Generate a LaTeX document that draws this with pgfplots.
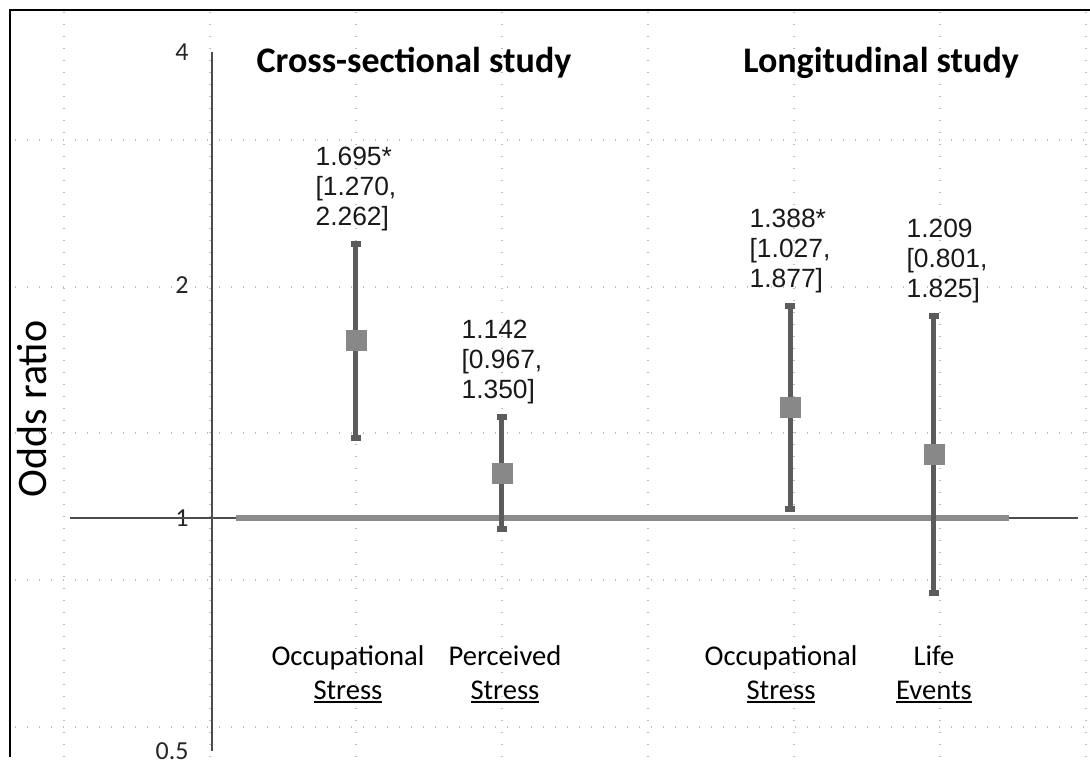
\documentclass[border=0pt]{standalone}
\usepackage{fontspec}
\setmainfont{Carlito}
\newfontfamily\arial{Liberation Sans}
\usepackage{pgfplots}
\pgfplotsset{compat=1.18}
\definecolor{errc}{HTML}{5C5C5C}
\definecolor{markc}{HTML}{888888}
\definecolor{refc}{HTML}{8C8C8C}
\definecolor{thinc}{HTML}{4D4D4D}
\definecolor{gridc}{HTML}{BDBDBD}
\newcommand\ul[1]{\setbox0\hbox{#1}\rlap{\rule[-2pt]{\wd0}{0.9pt}}#1}

\pgfplotstableread{
x      or     lo     hi
0.986  1.695  1.270  2.262
1.986  1.142  0.967  1.350
3.959  1.388  1.027  1.877
4.945  1.209  0.801  1.825
}\ortable

\begin{document}
\begin{tikzpicture}
\begin{scope}[x=0.5pt,y=0.5pt]
\useasboundingbox (0,0) rectangle (1090,757);
% background dotted guides
\foreach \gx in {64,210,356,502,648,794,940,1086}
  \draw[gridc, line width=0.6pt, dash pattern=on 0.6pt off 5.4pt] (\gx,0) -- (\gx,745);
\foreach \gy in {617,470,324,177,30}
  \draw[gridc, line width=0.6pt, dash pattern=on 0.6pt off 5.4pt] (15,\gy) -- (1090,\gy);
\draw[black, line width=1.25pt] (10,0) -- (10,747) -- (1090,747);
\end{scope}

\begin{axis}[at={(106pt,3pt)}, anchor=south west, scale only axis,
  width=438pt, height=349.5pt,
  xmin=0, xmax=6, ymode=log, log basis y=2, ymin=0.5, ymax=4,
  axis x line=none, axis y line=left,
  y axis line style={-, draw=thinc, line width=0.75pt},
  ytick={0.5,1,2,4}, yticklabels={0.5,1,2,4},
  major tick length=0pt,
  yticklabel style={font=\fontsize{13}{15}\selectfont, text=black!85, anchor=east, inner sep=0pt, xshift=-11.5pt},
  clip=false]
\addplot[thinc, line width=0.75pt] coordinates {(-0.976,1) (5.932,1)};
\addplot[refc, line width=2.75pt] coordinates {(0.164,1) (5.459,1)};
\addplot[errc, line width=2.5pt, mark=-, mark size=2.5pt, mark options={line width=3pt, solid}] coordinates {(0.986,1.270) (0.986,2.262)};
\addplot[errc, line width=2.5pt, mark=-, mark size=2.5pt, mark options={line width=3pt, solid}] coordinates {(1.986,0.967) (1.986,1.350)};
\addplot[errc, line width=2.5pt, mark=-, mark size=2.5pt, mark options={line width=3pt, solid}] coordinates {(3.959,1.027) (3.959,1.877)};
\addplot[errc, line width=2.5pt, mark=-, mark size=2.5pt, mark options={line width=3pt, solid}] coordinates {(4.945,0.801) (4.945,1.825)};
\addplot[only marks, mark=square*, mark size=5pt, mark options={fill=markc, draw=markc}] table[x=x, y=or] {\ortable};

\begin{scope}[every node/.style={font=\arial\fontsize{13.2}{15}\selectfont, text=black!90, align=left, anchor=south, inner sep=0pt, yshift=6.3pt}]
\node at (axis cs:0.986,2.262) {1.695*\\{[}1.270,\\2.262{]}};
\node at (axis cs:1.986,1.350) {1.142\\{[}0.967,\\1.350{]}};
\node at (axis cs:3.959,1.877) {1.388*\\{[}1.027,\\1.877{]}};
\node[xshift=6.5pt] at (axis cs:4.945,1.825) {1.209\\{[}0.801,\\1.825{]}};
\end{scope}

\begin{scope}[every node/.style={font=\fontsize{14.3}{16}\selectfont, anchor=base, inner sep=0pt}]
\node[xshift=-4pt] at (axis cs:0.986,0.6458) {Occupational};
\node[xshift=-4pt] at (axis cs:0.986,0.5835) {\ul{Stress}};
\node[xshift=1.5pt] at (axis cs:1.986,0.6458) {Perceived};
\node[xshift=1.5pt] at (axis cs:1.986,0.5835) {\ul{Stress}};
\node[xshift=-4.5pt] at (axis cs:3.959,0.6458) {Occupational};
\node[xshift=-4.5pt] at (axis cs:3.959,0.5835) {\ul{Stress}};
\node at (axis cs:4.945,0.6458) {Life};
\node at (axis cs:4.945,0.5835) {\ul{Events}};
\end{scope}
\end{axis}

\begin{scope}[x=0.5pt,y=0.5pt]
\node[anchor=base, font=\bfseries\fontsize{18}{20}\selectfont] at (414,684) {Cross-sectional study};
\node[anchor=base, font=\bfseries\fontsize{18}{20}\selectfont] at (881,684) {Longitudinal study};
\node[rotate=90, font=\fontsize{21}{23}\selectfont] at (32,348) {Odds ratio};
\end{scope}
\end{tikzpicture}
\end{document}
